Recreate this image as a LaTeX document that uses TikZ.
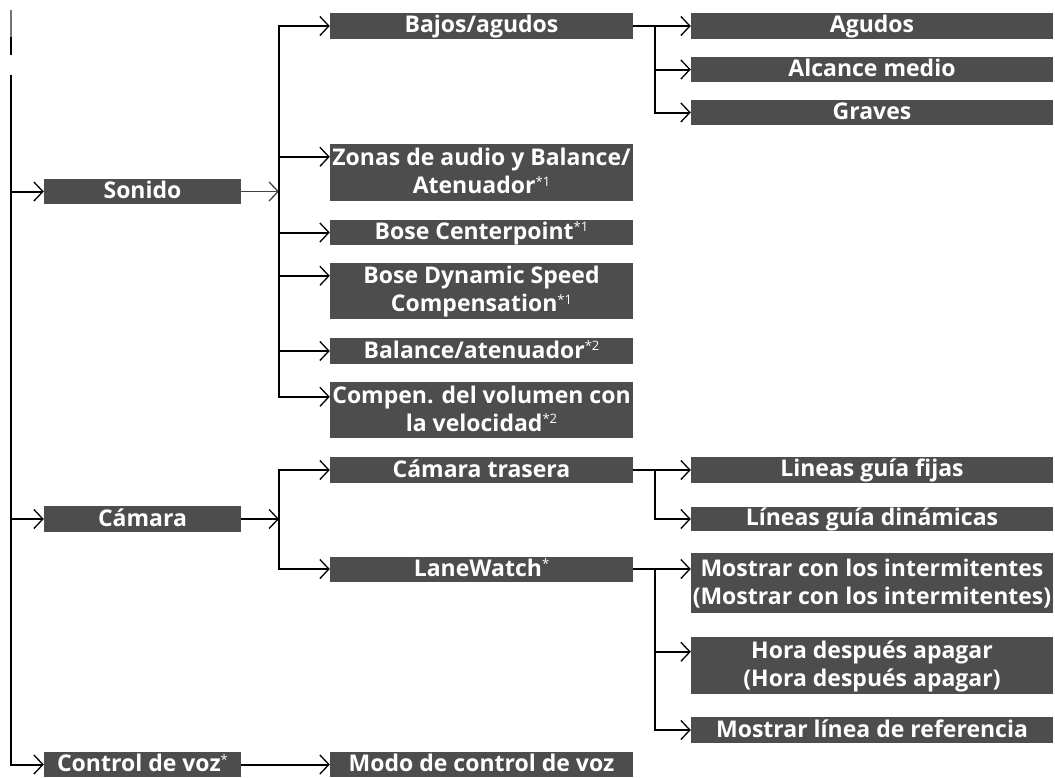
\documentclass[tikz,border=0pt]{standalone}
\usepackage{fontspec}
\setmainfont{Open Sans}
\usetikzlibrary{arrows.meta,calc}
\definecolor{boxgray}{HTML}{4D4D4D}
\newcommand\supx[1]{\raisebox{7.5pt}{\fontsize{13}{13}\selectfont\mdseries #1}}
\newcommand\sx{\rule[-5pt]{0pt}{24pt}}
\begin{document}
\begin{tikzpicture}[x=1pt,y=-1pt,
  lbl/.style={fill=boxgray,text=white,font=\fontsize{23}{28}\selectfont\bfseries,inner sep=0pt,align=center,anchor=center},
  b1/.style={lbl,minimum width=197pt},
  b2/.style={lbl,minimum width=303pt},
  b3/.style={lbl,minimum width=362pt},
  ln/.style={line width=2pt},
  arr/.style={ln,-{Straight Barb[length=9pt,width=19pt,line width=1.3pt]}}
]
\fill[white] (0,0) rectangle (1055,777);
\useasboundingbox (0,0) rectangle (1055,777);

% level 1
\node[b1,minimum height=25pt] (sonido) at (142.5,191.5) {\sx Sonido};
\node[b1,minimum height=26pt] (camara) at (142.5,519) {\sx Cámara};
\node[b1,minimum height=25pt] (voz) at (142.5,764.5) {\sx Control de voz\supx{*}};

% level 2
\node[b2,minimum height=26pt] (bajos) at (481.5,26) {\sx Bajos/agudos};
\node[b2,minimum height=57pt] (zonas) at (481.5,172.5) {\sx Zonas de audio y Balance/\\\sx Atenuador\supx{*1}};
\node[b2,minimum height=25pt] (center) at (481.5,232.5) {\sx Bose Centerpoint\supx{*1}};
\node[b2,minimum height=56pt] (dynamic) at (481.5,291) {\sx Bose Dynamic Speed\\\sx Compensation\supx{*1}};
\node[b2,minimum height=26pt] (balance) at (481.5,351) {\sx Balance/atenuador\supx{*2}};
\node[b2,minimum height=56pt] (compen) at (481.5,410) {\sx Compen. del volumen con\\\sx la velocidad\supx{*2}};
\node[b2,minimum height=26pt] (trasera) at (481.5,470) {\sx Cámara trasera};
\node[b2,minimum height=25pt] (lanewatch) at (481.5,569) {\sx LaneWatch\supx{*}};
\node[b2,minimum height=25pt] (modo) at (481.5,764.5) {\sx Modo de control de voz};

% level 3
\node[b3,minimum height=26pt] (agudos) at (872,26) {\sx Agudos};
\node[b3,minimum height=25pt] (alcance) at (872,69.5) {\sx Alcance medio};
\node[b3,minimum height=25pt] (graves) at (872,112.5) {\sx Graves};
\node[b3,minimum height=26pt] (fijas) at (872,470) {\sx Lineas guía fijas};
\node[b3,minimum height=24pt] (dinamicas) at (872,519) {\sx Líneas guía dinámicas};
\node[b3,minimum height=60pt] (intermit) at (872,583) {\sx Mostrar con los intermitentes\\\sx (Mostrar con los intermitentes)};
\node[b3,minimum height=57pt] (hora) at (872,665.5) {\sx Hora después apagar\\\sx (Hora después apagar)};
\node[b3,minimum height=26pt] (linea) at (872,730) {\sx Mostrar línea de referencia};

% first-line anchors of two-line boxes
\coordinate (zonasL) at ($(zonas.north west)+(0,13)$);
\coordinate (dynamicL) at ($(dynamic.north west)+(0,13)$);
\coordinate (compenL) at ($(compen.north west)+(0,15)$);
\coordinate (horaL) at ($(hora.north west)+(0,15)$);

% bus positions
\coordinate (t0) at (11,75);
\coordinate (sb) at (279,26);
\coordinate (bb) at (655,26);

% main trunk
\draw[ln,black!55] (11,10) -- (11,37);
\draw[ln] (11,37) -- (11,55);
\draw[arr] (t0) -- (t0 |- voz) -- (voz.west);
\draw[arr] (t0 |- sonido) -- (sonido.west);
\draw[arr] (t0 |- camara) -- (camara.west);

% Sonido branch
\draw[line width=1.3pt,black!75,-{Straight Barb[length=9pt,width=19pt,line width=1.3pt]}] (sonido.east) -- (sonido.east -| sb);
\draw[arr] (sb |- compenL) -- (sb |- bajos) -- (bajos.west);
\draw[arr] (sb |- sonido) -- (sb |- compenL) -- (compenL);
\draw[arr] (sb |- zonasL) -- (zonasL);
\draw[arr] (sb |- center) -- (center.west);
\draw[arr] (sb |- dynamicL) -- (dynamicL);
\draw[arr] (sb |- balance) -- (balance.west);

% Bajos/agudos branch
\draw[arr] (bajos.east) -- (agudos.west);
\draw[arr] (bb) -- (bb |- graves) -- (graves.west);
\draw[arr] (bb |- alcance) -- (alcance.west);

% Camara branch
\draw[arr] (camara.east) -- (camara.east -| sb);
\draw[arr] (sb |- lanewatch) -- (sb |- trasera) -- (trasera.west);
\draw[arr] (sb |- camara) -- (sb |- lanewatch) -- (lanewatch.west);

% Camara trasera branch
\draw[arr] (trasera.east) -- (fijas.west);
\draw[arr] (bb |- trasera) -- (bb |- dinamicas) -- (dinamicas.west);

% LaneWatch branch
\draw[arr] (lanewatch.east) -- (intermit.west |- lanewatch);
\draw[arr] (bb |- lanewatch) -- (bb |- linea) -- (linea.west);
\draw[arr] (bb |- horaL) -- (horaL);

% Control de voz
\draw[arr] (voz.east) -- (modo.west);
\end{tikzpicture}
\end{document}
